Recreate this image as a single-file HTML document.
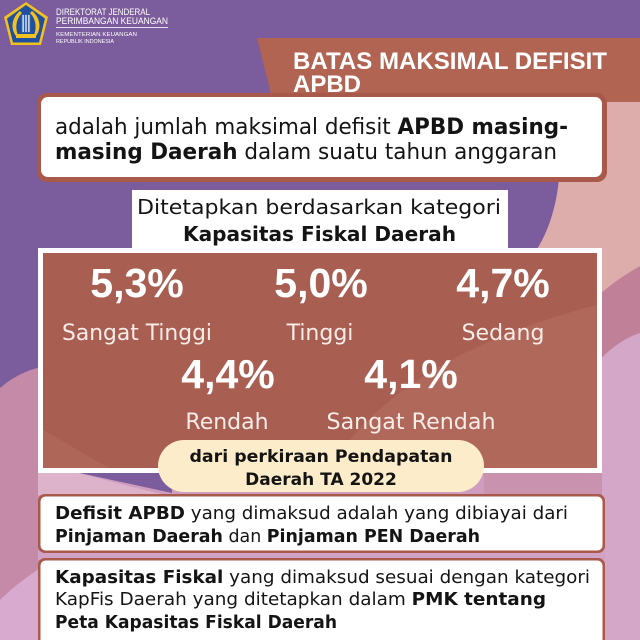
<!DOCTYPE html>
<html>
<head>
<meta charset="utf-8">
<style>
  html,body{margin:0;padding:0;background:#7b5c9c;}
  svg{display:block;}
  .dj{font-family:"DejaVu Sans","Liberation Sans",sans-serif;}
  .lib{font-family:"Liberation Sans","DejaVu Sans",sans-serif;}
</style>
</head>
<body>
<svg width="640" height="640" viewBox="0 0 640 640" xmlns="http://www.w3.org/2000/svg">
  <!-- background -->
  <rect width="640" height="640" fill="#7b5c9c"/>
  <path d="M548,95 C566,140 566,215 528,262 L528,640 L640,640 L640,95 Z" fill="#dcadab"/>
  <path d="M640,328 C612,342 588,368 562,410 L520,640 L640,640 Z" fill="#d4a6c8"/>
  <path d="M640,266 C612,282 585,302 556,345 L530,400 L562,410 C588,368 612,342 640,333 Z" fill="#bf8098"/>
  <path d="M0,388 C25,366 60,360 90,366 L200,472 L200,640 L0,640 Z" fill="#c58aa7"/>
  <path d="M0,600 C15,585 30,575 40,568 L40,640 L0,640 Z" fill="#d8aacf"/>
  <!-- gap between big box and box 2 -->
  <rect x="38" y="470" width="564" height="26" fill="#cf9dbf"/>
  <path d="M38,472 L75,472 C105,480 135,488 165,495 L38,495 Z" fill="#ddb3cc"/>
  <path d="M75,472 L172,472 L172,493 Z" fill="#7b5c9c"/>
  <rect x="484" y="470" width="118" height="26" fill="#c992ae"/>
  <rect x="38" y="551" width="567" height="9" fill="#d0a2c5"/>

  <!-- logo -->
  <polygon points="26,2 48,17 41,45 11,45 4,17" fill="#f3c11f"/>
  <polygon points="26,5 45,18.5 39,42.5 13,42.5 7,18.5" fill="#1f4f9f"/>
  <path d="M16,36 C10,28 12,17 20,11 L22,13 C16,19 15,28 18,35 Z" fill="#f3c11f"/>
  <path d="M36,36 C42,28 40,17 32,11 L30,13 C36,19 37,28 34,35 Z" fill="#f3c11f"/>
  <rect x="21" y="14" width="10" height="19" fill="#2a5aa8"/>
  <rect x="22.5" y="15" width="1.2" height="17" fill="#ffffff"/>
  <rect x="25.4" y="15" width="1.2" height="17" fill="#ffffff"/>
  <rect x="28.3" y="15" width="1.2" height="17" fill="#ffffff"/>
  <rect x="16" y="34" width="20" height="4" fill="#f3c11f"/>

  <!-- header texts -->
  <g class="lib" fill="#ffffff">
    <text x="56" y="15" font-size="9" textLength="94" lengthAdjust="spacingAndGlyphs">DIREKTORAT JENDERAL</text>
    <text x="56" y="24" font-size="9" textLength="112" lengthAdjust="spacingAndGlyphs">PERIMBANGAN KEUANGAN</text>
    <rect x="56" y="27" width="112" height="0.8" fill="#ffffff"/>
    <text x="56" y="36" font-size="5.5" textLength="81" lengthAdjust="spacingAndGlyphs">KEMENTERIAN KEUANGAN</text>
    <text x="56" y="43" font-size="5" textLength="58" lengthAdjust="spacingAndGlyphs">REPUBLIK INDONESIA</text>
  </g>

  <!-- title banner -->
  <polygon points="257,38 640,38 640,102 273,102" fill="#b26452"/>
  <g class="lib" fill="#ffffff" font-weight="bold" font-size="24">
    <text x="293" y="69" textLength="314" lengthAdjust="spacingAndGlyphs">BATAS MAKSIMAL DEFISIT</text>
    <text x="293" y="92">APBD</text>
  </g>

  <!-- box 1 -->
  <rect x="37" y="93" width="570" height="89" rx="10" fill="#a9594a"/>
  <rect x="41" y="97" width="561" height="80" rx="7" fill="#ffffff"/>
  <g class="dj" fill="#141414" font-size="22">
    <text x="55" y="134" textLength="513" lengthAdjust="spacingAndGlyphs">adalah jumlah maksimal defisit <tspan font-weight="bold">APBD masing-</tspan></text>
    <text x="55" y="159" textLength="502" lengthAdjust="spacingAndGlyphs"><tspan font-weight="bold">masing Daerah</tspan> dalam suatu tahun anggaran</text>
  </g>

  <!-- Ditetapkan box -->
  <rect x="132" y="190" width="376" height="62" fill="#ffffff"/>
  <g class="dj" fill="#141414">
    <text x="137" y="214" font-size="20.5" textLength="364" lengthAdjust="spacingAndGlyphs">Ditetapkan berdasarkan kategori</text>
    <text x="183" y="241" font-size="20" font-weight="bold" textLength="273" lengthAdjust="spacingAndGlyphs">Kapasitas Fiskal Daerah</text>
  </g>

  <!-- big brown box -->
  <rect x="38" y="248" width="564" height="225" fill="#ffffff"/>
  <rect x="43" y="253" width="554" height="215" fill="#a85f52"/>
  <path d="M330,468 C370,400 460,340 597,305 L597,468 Z" fill="#b0685a"/>
  <path d="M43,430 C70,445 90,458 110,468 L43,468 Z" fill="#ae6658"/>

  <g class="lib" fill="#ffffff" font-weight="bold" font-size="41" text-anchor="middle">
    <text x="137" y="297">5,3%</text>
    <text x="321" y="297">5,0%</text>
    <text x="503" y="297">4,7%</text>
    <text x="228" y="388">4,4%</text>
    <text x="411" y="388">4,1%</text>
  </g>
  <g class="dj" fill="#f8ece9" font-size="22" text-anchor="middle">
    <text x="137" y="340" textLength="150" lengthAdjust="spacingAndGlyphs">Sangat Tinggi</text>
    <text x="320" y="340">Tinggi</text>
    <text x="503" y="340">Sedang</text>
    <text x="227" y="429">Rendah</text>
    <text x="411" y="429" textLength="169" lengthAdjust="spacingAndGlyphs">Sangat Rendah</text>
  </g>

  <!-- pill -->
  <rect x="158" y="440" width="326" height="52" rx="26" fill="#fdecc9"/>
  <g class="dj" fill="#141414" font-weight="bold" font-size="17" text-anchor="middle">
    <text x="321" y="462" textLength="263" lengthAdjust="spacingAndGlyphs">dari perkiraan Pendapatan</text>
    <text x="321" y="485">Daerah TA 2022</text>
  </g>

  <!-- box 2 -->
  <rect x="38" y="494" width="567" height="59" rx="7" fill="#a9594a"/>
  <rect x="40.5" y="496.5" width="562" height="54" rx="5" fill="#ffffff"/>
  <g class="dj" fill="#141414" font-size="18">
    <text x="55" y="519" textLength="513" lengthAdjust="spacingAndGlyphs"><tspan font-weight="bold">Defisit APBD</tspan> yang dimaksud adalah yang dibiayai dari</text>
    <text x="55" y="542" textLength="425" lengthAdjust="spacingAndGlyphs"><tspan font-weight="bold">Pinjaman Daerah</tspan> dan <tspan font-weight="bold">Pinjaman PEN Daerah</tspan></text>
  </g>

  <!-- box 3 -->
  <rect x="38" y="558" width="567" height="92" rx="7" fill="#a9594a"/>
  <rect x="40.5" y="560.5" width="562" height="87" rx="5" fill="#ffffff"/>
  <g class="dj" fill="#141414" font-size="18">
    <text x="55" y="583" textLength="535" lengthAdjust="spacingAndGlyphs"><tspan font-weight="bold">Kapasitas Fiskal</tspan> yang dimaksud sesuai dengan kategori</text>
    <text x="55" y="605" textLength="491" lengthAdjust="spacingAndGlyphs">KapFis Daerah yang ditetapkan dalam <tspan font-weight="bold">PMK tentang</tspan></text>
    <text x="55" y="628" textLength="282" lengthAdjust="spacingAndGlyphs" font-weight="bold">Peta Kapasitas Fiskal Daerah</text>
  </g>
</svg>
</body>
</html>
